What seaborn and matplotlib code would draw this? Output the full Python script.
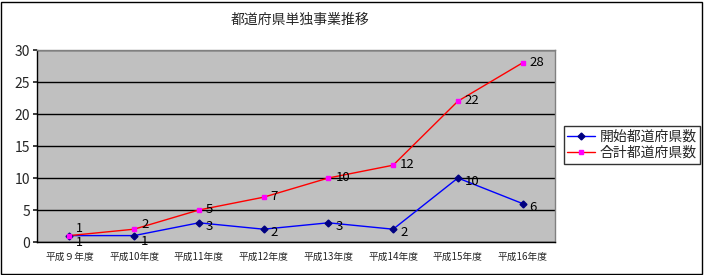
import matplotlib
matplotlib.use("Agg")
import matplotlib.pyplot as plt
import seaborn as sns
import pandas as pd
import numpy as np
from matplotlib.lines import Line2D

categories = ["平成９年度", "平成10年度", "平成11年度", "平成12年度", "平成13年度", "平成14年度", "平成15年度", "平成16年度"]
start_counts = [1, 1, 3, 2, 3, 2, 10, 6]
total_counts = [1, 2, 5, 7, 10, 12, 22, 28]
series_names = ["開始都道府県数", "合計都道府県数"]
title = "都道府県単独事業推移"

sns.set_theme(style="white")
plt.rcParams['font.family'] = ['Noto Sans CJK JP', 'DejaVu Sans']

df = pd.DataFrame({
    "x": list(range(len(categories))) * 2,
    "value": start_counts + total_counts,
    "series": [series_names[0]] * len(categories) + [series_names[1]] * len(categories),
})

fig = plt.figure(figsize=(7.05, 2.75), dpi=100)
ax = fig.add_axes([37/705, 1-242/275, (555-37)/705, (242-50)/275])
ax.set_facecolor("#C0C0C0")

line_colors = {series_names[0]: "#0000FF", series_names[1]: "#FF0000"}
sns.lineplot(data=df, x="x", y="value", hue="series", palette=line_colors,
             ax=ax, linewidth=1.0, legend=False, zorder=3)
ax.plot(range(len(categories)), start_counts, linestyle="none", marker="D",
        markersize=3.5, color="#000080", zorder=4)
ax.plot(range(len(categories)), total_counts, linestyle="none", marker="s",
        markersize=3.5, color="#FF00FF", zorder=4)

for i, (b, r) in enumerate(zip(start_counts, total_counts)):
    if r == b:
        # identical values: stack the two labels so both stay readable
        ax.annotate(str(r), (i, r), xytext=(5, 0.5), textcoords="offset points",
                    ha="left", va="bottom", fontsize=9, color="black", zorder=5)
        ax.annotate(str(b), (i, b), xytext=(5, 0), textcoords="offset points",
                    ha="left", va="top", fontsize=9, color="black", zorder=5)
    else:
        close = abs(r - b) < 2
        ax.annotate(str(b), (i, b), xytext=(5, -4.5 if close else -2.5), textcoords="offset points",
                    ha="left", va="center", fontsize=9.5, color="black", zorder=5)
        ax.annotate(str(r), (i, r), xytext=(5, 3.5 if close else 0.5), textcoords="offset points",
                    ha="left", va="center", fontsize=9.5, color="black", zorder=5)

ax.set_xlim(-0.5, len(categories) - 0.5)
ax.set_ylim(0, 30)
ax.set_yticks(range(0, 31, 5))
ax.yaxis.grid(True, color="black", linewidth=1.0)
ax.set_axisbelow(True)
ax.set_xticks(range(len(categories)))
ax.set_xticklabels(categories, fontsize=7)
ax.set_xticks(np.arange(-0.5, len(categories), 1), minor=True)
ax.tick_params(axis="x", which="major", length=0, pad=7)
ax.tick_params(axis="x", which="minor", length=4, direction="in", color="black", width=0.8)
ax.tick_params(axis="y", which="major", length=3, direction="out", labelsize=10, pad=2, left=True)
ax.set_xlabel("")
ax.set_ylabel("")
for s in ax.spines.values():
    s.set_color("black")
    s.set_linewidth(1.0)
ax.spines["top"].set_color("#808080")
ax.spines["right"].set_color("#808080")

fig.text(300/705, 1-20/275, title, ha="center", va="center", fontsize=10)

handles = [
    Line2D([], [], color="#0000FF", marker="D", markersize=3.5, markerfacecolor="#000080", markeredgecolor="#000080", linewidth=1),
    Line2D([], [], color="#FF0000", marker="s", markersize=3.5, markerfacecolor="#FF00FF", markeredgecolor="#FF00FF", linewidth=1),
]
leg = fig.legend(handles, series_names, loc="center", bbox_to_anchor=(632/705, 1-145/275),
                 fontsize=10, frameon=True, fancybox=False, edgecolor="black",
                 handlelength=2.0, handletextpad=0.3, borderpad=0.25, labelspacing=0.15)
leg.get_frame().set_linewidth(1.0)

border = plt.Rectangle((0.002, 0.004), 0.994, 0.99, transform=fig.transFigure,
                       fill=False, edgecolor="black", linewidth=1.0)
fig.patches.append(border)

fig.savefig("out.png", dpi=100, facecolor="white")
